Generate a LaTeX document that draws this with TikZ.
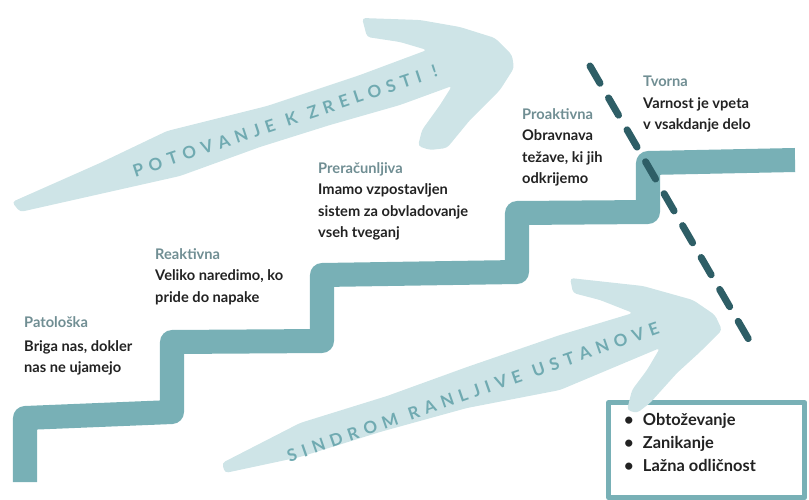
\documentclass[tikz,border=0pt]{standalone}
\usepackage{fontspec}
\setmainfont{Lato}

\definecolor{stair}{RGB}{120,176,182}
\definecolor{brush}{RGB}{206,228,231}
\definecolor{brushtext}{RGB}{112,170,177}
\definecolor{darkdash}{RGB}{46,94,102}
\definecolor{stagelabel}{RGB}{112,142,147}
\definecolor{bodytext}{RGB}{34,34,34}

\newcommand{\itm}{\makebox[16pt][l]{\textbullet}}

\ExplSyntaxOn
\cs_new:Npn \brush_word:n #1 { \tl_map_inline:nn {#1} { ##1 \hskip 5pt } }
\NewDocumentCommand{\widen}{m}
  {
    \seq_set_split:Nnn \l_tmpa_seq { ~ } { #1 }
    \seq_map_inline:Nn \l_tmpa_seq { \brush_word:n {##1} \hskip 5pt }
    \unskip \unskip
  }
\ExplSyntaxOff

\begin{document}
\begin{tikzpicture}[x=0.03cm, y=-0.03cm, line join=round]

  \tikzstyle{stage}=[anchor=north west, inner sep=0pt, align=left, text=bodytext, font=\fontsize{12.5}{18.4}\selectfont\bfseries]
  \tikzstyle{brushword}=[inner sep=0pt, text=brushtext, font=\fontsize{14.5}{14.5}\selectfont\bfseries]
  \tikzstyle{steps}=[draw=stair, line width=20.5pt, line cap=butt]
  \tikzstyle{border}=[dash pattern=on 17pt off 14.5pt, draw=darkdash, line width=6pt, line cap=round]

  \useasboundingbox (0,0) rectangle (809,499);

  % Upper brush arrow
  \fill[brush, rounded corners=3pt] (12,202) -- (100,163) -- (167,131) -- (267,106) -- (360,75) -- (427,50)
    -- (400,42) -- (367,37) -- (362,18) -- (420,20) -- (460,27) -- (495,38) -- (512,55) -- (514,68)
    -- (500,90) -- (470,120) -- (447,148) -- (430,150) -- (418,146) -- (422,130) -- (440,105) -- (452,86)
    -- (400,105) -- (330,125) -- (260,147) -- (180,176) -- (100,194) -- (20,212) -- cycle;
  \node[brushword, rotate=18.4] (journey) at (285,121) {\widen{POTOVANJE K ZRELOSTI !}};

  % Frame with symptoms
  \node[draw=stair, fill=white, line width=4.5pt, minimum width=196*0.03cm, minimum height=95*0.03cm,
    anchor=north west, inner sep=0pt] (frame) at (606,400) {};
  \node[anchor=north west, inner sep=0pt, align=left, text=bodytext,
    font=\fontsize{14}{19.6}\selectfont\bfseries] (symptoms) at (624,413)
    {\itm Obtoževanje\\\itm Zanikanje\\\itm Lažna odličnost};

  % Lower brush arrow
  \fill[brush, rounded corners=3pt] (222,463) -- (300,423) -- (387,396) -- (467,367) -- (560,335) -- (633,313)
    -- (600,300) -- (573,293) -- (570,278) -- (643,286) -- (693,300) -- (715,315) -- (722,330)
    -- (700,352) -- (677,373) -- (650,403) -- (637,413) -- (627,410) -- (632,390) -- (647,370) -- (660,348)
    -- (560,390) -- (467,408) -- (380,432) -- (300,457) -- (225,473) -- cycle;
  \node[brushword, rotate=19.2] (syndrome) at (473,392) {\widen{SINDROM RANLJIVE USTANOVE}};

  % Staircase
  \draw[steps] (25,482) -- (25,418) -- (172,412) -- (172,342) -- (322,341) -- (322,275)
    -- (517,272) -- (517,213) -- (648,212) -- (648,163) -- (795,160);

  % Dashed border
  \coordinate (b1) at (590,66);
  \coordinate (b2) at (749,340);
  \draw[border] (b1) -- (b2);

  % Stages
  \node[stage] (pat) at (24,316) {{\color{stagelabel}Patološka}\\[2pt]Briga nas, dokler\\nas ne ujamejo};
  \node[stage] (rea) at (155,248) {{\color{stagelabel}Reaktivna}\\Veliko naredimo, ko\\pride do napake};
  \node[stage] (pre) at (318,162) {{\color{stagelabel}Preračunljiva}\\Imamo vzpostavljen\\sistem za obvladovanje\\vseh tveganj};
  \node[stage] (pro) at (522,108) {{\color{stagelabel}Proaktivna}\\Obravnava\\težave, ki jih\\odkrijemo};
  \node[stage] (tvo) at (643,76) {{\color{stagelabel}Tvorna}\\Varnost je vpeta\\v vsakdanje delo};

\end{tikzpicture}
\end{document}
